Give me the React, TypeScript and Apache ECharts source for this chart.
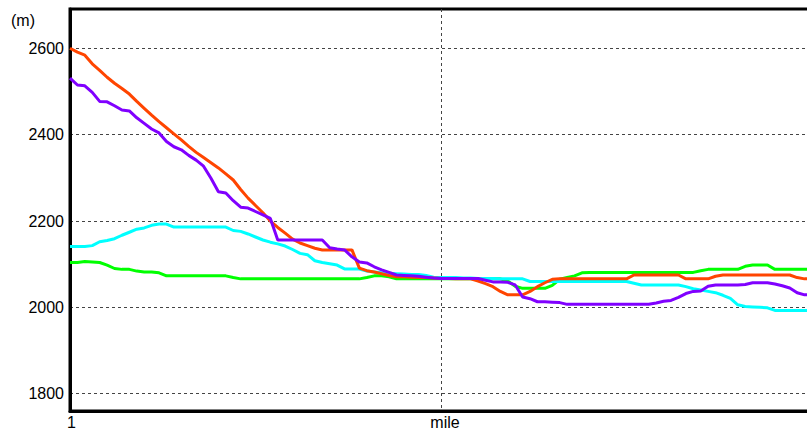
import React, { useEffect, useRef } from 'react';
import * as echarts from 'echarts';

const distance = Array.from({ length: 101 }, (_, i) => String(i + 1));
const yTicks = [1800, 2000, 2200, 2400, 2600];

const greenSeries = [
  2104, 2104, 2106, 2105, 2104, 2098, 2090, 2088, 2088, 2084,
  2082, 2082, 2080, 2073, 2073, 2073, 2073, 2073, 2073, 2073,
  2073, 2073, 2069, 2066, 2066, 2066, 2066, 2066, 2066, 2066,
  2066, 2066, 2066, 2066, 2066, 2066, 2066, 2066, 2066, 2066,
  2069, 2073, 2073, 2071, 2066, 2066, 2066, 2066, 2066, 2066,
  2066, 2066, 2066, 2066, 2066, 2066, 2066, 2066, 2066, 2061,
  2049, 2044, 2044, 2044, 2044, 2051, 2065, 2069, 2073, 2080,
  2081, 2081, 2081, 2081, 2081, 2081, 2081, 2081, 2081, 2081,
  2081, 2081, 2081, 2081, 2081, 2085, 2088, 2088, 2088, 2088,
  2088, 2095, 2098, 2098, 2098, 2088, 2088, 2088, 2088, 2088,
  2088,
];

const cyanSeries = [
  2141, 2141, 2141, 2143, 2152, 2155, 2159, 2167, 2174, 2181,
  2184, 2190, 2193, 2193, 2186, 2186, 2186, 2186, 2186, 2186,
  2186, 2186, 2178, 2176, 2170, 2163, 2156, 2151, 2147, 2142,
  2134, 2125, 2122, 2108, 2104, 2101, 2098, 2089, 2089, 2089,
  2084, 2082, 2080, 2079, 2078, 2077, 2076, 2076, 2074, 2070,
  2069, 2069, 2069, 2068, 2068, 2067, 2067, 2067, 2066, 2066,
  2066, 2066, 2060, 2060, 2060, 2060, 2060, 2060, 2060, 2060,
  2060, 2060, 2060, 2060, 2060, 2060, 2056, 2052, 2052, 2052,
  2052, 2052, 2052, 2048, 2043, 2040, 2037, 2034, 2028, 2021,
  2006, 2002, 2001, 2000, 1999, 1993, 1993, 1993, 1993, 1993,
  1993,
];

const orangeSeries = [
  2600, 2591, 2584, 2564, 2549, 2533, 2519, 2507, 2494, 2477,
  2461, 2445, 2430, 2416, 2402, 2388, 2373, 2359, 2347, 2335,
  2323, 2309, 2295, 2273, 2253, 2236, 2219, 2200, 2185, 2172,
  2158, 2149, 2143, 2137, 2133, 2133, 2133, 2133, 2133, 2091,
  2085, 2082, 2078, 2074, 2071, 2071, 2070, 2069, 2069, 2068,
  2067, 2067, 2066, 2066, 2066, 2061, 2055, 2048, 2037, 2029,
  2029, 2029, 2037, 2048, 2057, 2065, 2066, 2066, 2066, 2066,
  2066, 2066, 2066, 2066, 2066, 2066, 2075, 2075, 2075, 2075,
  2075, 2075, 2075, 2066, 2066, 2066, 2066, 2072, 2075, 2075,
  2075, 2075, 2075, 2075, 2075, 2075, 2075, 2075, 2069, 2066,
  2066,
];

const purpleSeries = [
  2531, 2515, 2513, 2498, 2477, 2476, 2467, 2457, 2455, 2439,
  2426, 2413, 2404, 2384, 2372, 2365, 2352, 2341, 2327, 2299,
  2268, 2265, 2247, 2232, 2230, 2222, 2214, 2206, 2156, 2156,
  2156, 2156, 2156, 2156, 2156, 2138, 2135, 2133, 2117, 2105,
  2103, 2094, 2087, 2081, 2075, 2074, 2073, 2072, 2070, 2068,
  2067, 2067, 2067, 2067, 2067, 2067, 2063, 2059, 2059, 2058,
  2052, 2024, 2020, 2013, 2013, 2012, 2011, 2007, 2007, 2007,
  2007, 2007, 2007, 2007, 2007, 2007, 2007, 2007, 2007, 2010,
  2014, 2016, 2023, 2032, 2037, 2038, 2049, 2052, 2052, 2052,
  2052, 2053, 2057, 2057, 2057, 2054, 2050, 2045, 2034, 2029,
  2029,
];

const FONT = '"Liberation Sans", Arial, sans-serif';
const FS = 16;

export default function App() {
  const ref = useRef<HTMLDivElement>(null);

  useEffect(() => {
    if (!ref.current) return;
    const chart = echarts.init(ref.current, undefined, { renderer: 'svg' });
    const mkLine = (data: number[], color: string) => ({
      type: 'line',
      data,
      showSymbol: false,
      symbol: 'none',
      lineStyle: { width: 3, color },
      itemStyle: { color },
    });
    chart.setOption({
      animation: false,
      backgroundColor: '#ffffff',
      grid: {
        left: 70,
        right: -5,
        top: 9,
        bottom: 21,
        containLabel: false,
        outerBoundsMode: 'none',
        show: true,
        borderColor: '#000000',
        borderWidth: 3,
        backgroundColor: '#ffffff',
      },
      graphic: [
        {
          type: 'text',
          x: 11,
          y: 20,
          style: {
            text: '(m)',
            fontSize: FS,
            fontFamily: FONT,
            fill: '#000',
            align: 'left',
            verticalAlign: 'middle',
          },
        },
        {
          type: 'text',
          x: 445,
          y: 422,
          style: {
            text: 'mile',
            fontSize: FS,
            fontFamily: FONT,
            fill: '#000',
            align: 'center',
            verticalAlign: 'middle',
          },
        },
      ],
      xAxis: {
        type: 'category',
        data: distance,
        boundaryGap: false,
        axisLine: { show: true, lineStyle: { color: '#000', width: 3 } },
        axisTick: { show: false, interval: 49 },
        axisLabel: {
          interval: (index: number) => index === 0,
          margin: 3,
          padding: [0, 0, 0, 3],
          fontSize: FS,
          fontFamily: FONT,
          color: '#000',
        },
        splitLine: {
          show: true,
          interval: (index: number) => index === 50,
          lineStyle: { color: '#444', width: 1, type: [3, 3] },
        },
      },
      yAxis: {
        type: 'value',
        min: 1760,
        max: 2691,
        axisLine: { show: true, lineStyle: { color: '#000', width: 3 } },
        axisTick: { show: false, customValues: yTicks },
        axisLabel: {
          customValues: yTicks,
          formatter: (v: number) => String(v),
          margin: 6,
          fontSize: FS,
          fontFamily: FONT,
          color: '#000',
        },
        splitLine: {
          show: true,
          lineStyle: { color: '#444', width: 1, type: [3, 3] },
        },
      },
      series: [
        mkLine(greenSeries, '#00ff00'),
        mkLine(cyanSeries, '#00ffff'),
        mkLine(orangeSeries, '#ff4500'),
        mkLine(purpleSeries, '#8000ff'),
      ],
    });
    return () => chart.dispose();
  }, []);

  return (
    <div
      ref={ref}
      style={{ position: 'fixed', left: 0, top: 0, width: 807, height: 432, overflow: 'hidden' }}
    />
  );
}
